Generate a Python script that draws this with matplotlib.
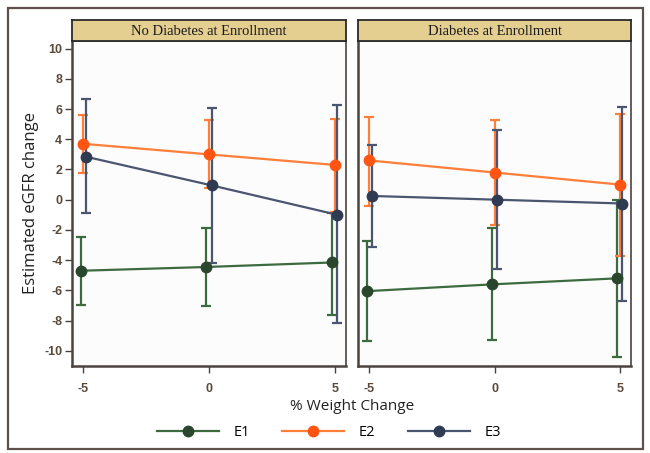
import matplotlib
matplotlib.use("Agg")
import matplotlib.pyplot as plt
from matplotlib.patches import Rectangle
from matplotlib.lines import Line2D

# ---- data ----
x_vals = [-5, 0, 5]
x_ticks = [-5, 0, 5]
y_ticks = [-10, -8, -6, -4, -2, 0, 2, 4, 6, 8, 10]
panels = ["No Diabetes at Enrollment", "Diabetes at Enrollment"]
series = ["E1", "E2", "E3"]

# No diabetes panel
nd_E1 = [-4.7, -4.45, -4.15]
nd_E1_lo = [-6.95, -7.0, -7.6]
nd_E1_hi = [-2.45, -1.9, -0.9]
nd_E2 = [3.7, 3.0, 2.3]
nd_E2_lo = [1.8, 0.8, -0.8]
nd_E2_hi = [5.6, 5.3, 5.36]
nd_E3 = [2.85, 0.95, -1.0]
nd_E3_lo = [-0.9, -4.2, -8.15]
nd_E3_hi = [6.65, 6.1, 6.25]

# Diabetes panel
d_E1 = [-6.05, -5.6, -5.2]
d_E1_lo = [-9.35, -9.3, -10.4]
d_E1_hi = [-2.75, -1.9, 0.0]
d_E2 = [2.6, 1.8, 1.0]
d_E2_lo = [-0.4, -1.7, -3.7]
d_E2_hi = [5.5, 5.25, 5.7]
d_E3 = [0.25, 0.0, -0.25]
d_E3_lo = [-3.1, -4.55, -6.7]
d_E3_hi = [3.65, 4.6, 6.15]

# ---- style ----
line_colors = {"E1": "#3d6b40", "E2": "#ff7f3a", "E3": "#4a5670"}
marker_colors = {"E1": "#2a472d", "E2": "#ff5512", "E3": "#2f3b52"}
dodge = {"E1": -0.1, "E2": 0.0, "E3": 0.1}
spine_col = "#4a4440"
tick_col = "#5a4a3a"
header_col = "#e4cf91"

W, H = 650, 453
fig = plt.figure(figsize=(6.5, 4.53), dpi=100)
fig.patch.set_facecolor("white")

# outer frame
fig.patches.append(Rectangle((8 / W, 4 / H), 635 / W, 441 / H, transform=fig.transFigure,
                             fill=False, edgecolor="#5e514a", linewidth=1.6))

ax_bottom = (453 - 366) / H
ax_height = (366 - 41) / H
lefts = [72 / W, 358 / W]
widths = [274 / W, 273 / W]

data = [
    {"E1": (nd_E1, nd_E1_lo, nd_E1_hi), "E2": (nd_E2, nd_E2_lo, nd_E2_hi), "E3": (nd_E3, nd_E3_lo, nd_E3_hi)},
    {"E1": (d_E1, d_E1_lo, d_E1_hi), "E2": (d_E2, d_E2_lo, d_E2_hi), "E3": (d_E3, d_E3_lo, d_E3_hi)},
]

for i, title in enumerate(panels):
    ax = fig.add_axes([lefts[i], ax_bottom, widths[i], ax_height])
    ax.set_facecolor("#fdfcfc")
    for s in series:
        vals, lo, hi = data[i][s]
        xs = [x + dodge[s] for x in x_vals]
        yerr = [[v - l for v, l in zip(vals, lo)], [h - v for v, h in zip(vals, hi)]]
        ax.errorbar(xs, vals, yerr=yerr, fmt="none", ecolor=line_colors[s],
                    elinewidth=1.6, capsize=3.5, capthick=1.6, zorder=2)
        ax.plot(xs, vals, color=line_colors[s], linewidth=1.6, zorder=3)
        ax.plot(xs, vals, linestyle="none", marker="o", markersize=7.5,
                color=marker_colors[s], zorder=4)
    ax.set_xlim(-5.44, 5.44)
    ax.set_ylim(-11, 10.5)
    ax.set_xticks(x_ticks)
    ax.set_xticklabels([str(t) for t in x_ticks], fontsize=9, color=tick_col,
                       family="Liberation Sans")
    ax.set_yticks(y_ticks)
    if i == 0:
        ax.set_yticklabels([str(t) for t in y_ticks], fontsize=9, color=tick_col,
                           family="Liberation Sans", fontweight="bold")
        ax.set_ylabel("Estimated eGFR change", fontsize=12, family="Open Sans",
                      color="#222222", labelpad=4)
        ax.tick_params(axis="y", length=5, width=1, color=spine_col, pad=2)
    else:
        ax.tick_params(axis="y", left=False, labelleft=False)
    for lab in ax.get_xticklabels():
        lab.set_fontweight("bold")
    ax.tick_params(axis="x", length=5, width=1, color=spine_col, pad=7)
    for sp in ax.spines.values():
        sp.set_color(spine_col)
        sp.set_linewidth(1.2)
    ax.spines["left"].set_linewidth(1.8)
    ax.spines["bottom"].set_linewidth(1.8)

    # header strip
    hax = fig.add_axes([lefts[i], (453 - 41) / H, widths[i], 21 / H])
    hax.set_facecolor(header_col)
    hax.set_xticks([])
    hax.set_yticks([])
    for sp in hax.spines.values():
        sp.set_color("#2a2a2a")
        sp.set_linewidth(1.3)
    hax.text(0.5, 0.45, title, ha="center", va="center", fontsize=10.5,
             family="Liberation Serif", color="#1a1a1a", transform=hax.transAxes)

fig.text(352 / W, 1 - 406 / H, "% Weight Change", ha="center", va="center",
         fontsize=11, family="Open Sans", color="#222222")

handles = [Line2D([0], [0], color=line_colors[s], linewidth=1.6, marker="o",
                  markersize=7.5, markerfacecolor=marker_colors[s],
                  markeredgecolor=marker_colors[s]) for s in series]
fig.legend(handles, series, loc="center", bbox_to_anchor=(329 / W, 1 - 433 / H),
           ncol=3, frameon=False, handlelength=4.25, columnspacing=2.2,
           handletextpad=1.0, prop={"family": "Open Sans", "size": 10.5})

fig.savefig("out.png", dpi=100, facecolor="white")
